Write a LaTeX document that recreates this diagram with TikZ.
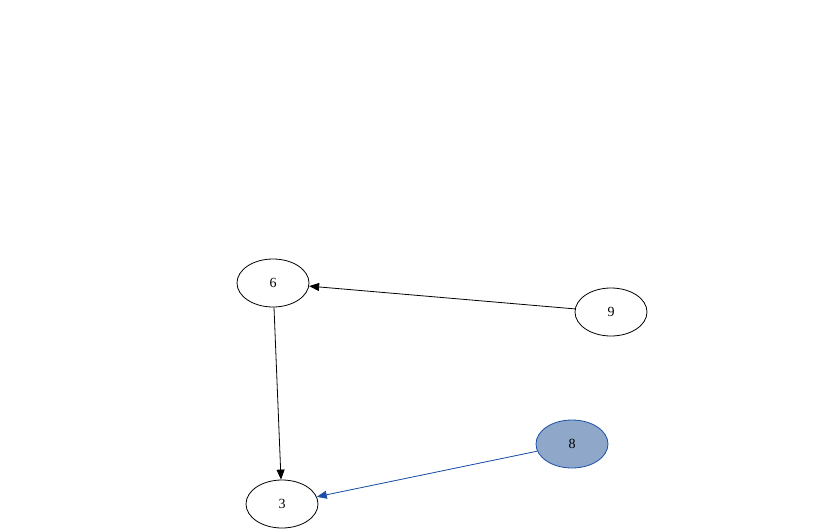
\documentclass[tikz,border=0pt]{standalone}
\usepackage{fontspec}
\setmainfont{Liberation Serif}
\usetikzlibrary{arrows.meta,shapes.geometric}
\definecolor{selfill}{RGB}{143,167,200}
\definecolor{selline}{RGB}{28,80,168}
\begin{document}
\begin{tikzpicture}[x=1pt, y=-1pt,
    vtx/.style={draw, ellipse, minimum width=72pt, minimum height=48pt, inner sep=0pt, font=\fontsize{14}{16}\selectfont, line width=0.8pt},
    sel/.style={vtx, fill=selfill, draw=selline},
    arr/.style={-{Triangle[length=10pt, width=8pt]}, line width=0.8pt},
    selarr/.style={arr, draw=selline, fill=selline}
]
\useasboundingbox (0,0) rectangle (832,532);
\node[vtx] (v6) at (273,283) {6};
\node[vtx] (v9) at (611,312) {9};
\node[sel] (v8) at (572,444) {8};
\node[vtx] (v3) at (282,504) {3};

\draw[arr] (v9) -- (v6);
\draw[arr] (v6) -- (v3);
\draw[selarr] (v8) -- (v3);
\end{tikzpicture}
\end{document}
